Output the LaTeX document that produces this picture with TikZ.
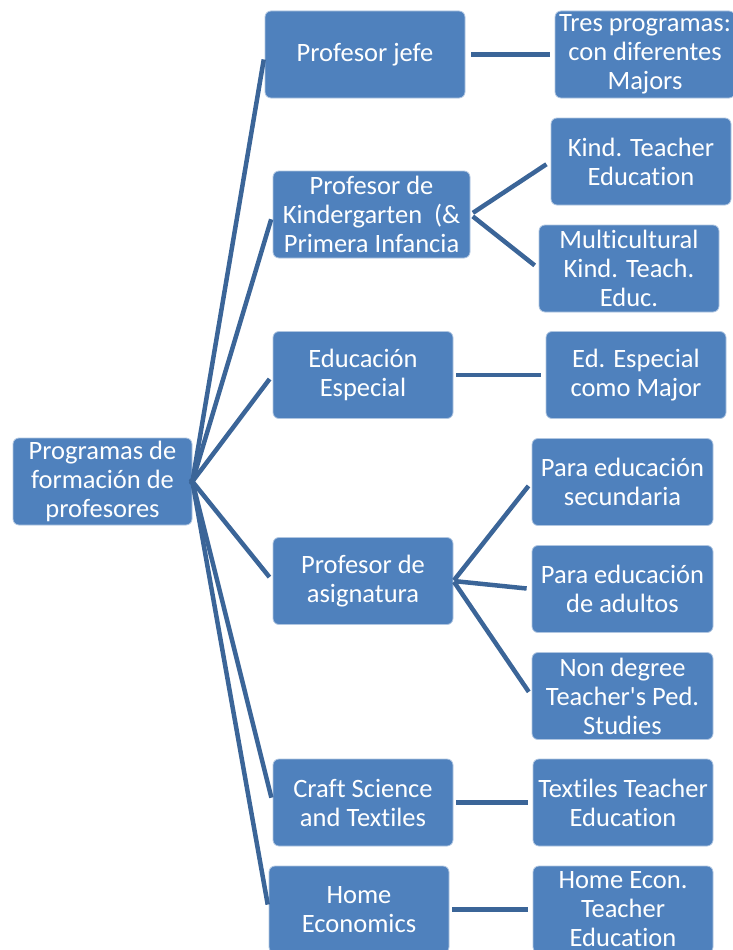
\documentclass[tikz,border=0pt]{standalone}
\usepackage{fontspec}
\setmainfont{Carlito}[Ligatures={NoCommon}]
\definecolor{boxblue}{HTML}{4F81BD}
\definecolor{linkblue}{HTML}{3B6598}
\begin{document}
\begin{tikzpicture}[
    x=1pt, y=-1pt,
    % Style for the blue SmartArt boxes
    box/.style={rectangle, rounded corners=6pt, fill=boxblue, draw=white!55!boxblue, line width=0.8pt,
        text=white, align=center, inner sep=0pt, minimum height=87pt,
        font=\fontsize{26.5}{29}\selectfont},
    % Style for the thick connectors
    link/.style={linkblue, line width=4.5pt, shorten >=5pt}
]
    \clip (0,0) rectangle (733,950);
    \useasboundingbox (0,0) rectangle (733,950);

    % --- 1. Root ---
    \node[box, minimum width=179pt] (root) at (102.5, 481.5) {Programas de\\formación de\\profesores};

    % --- 2. First level ---
    \node[box, minimum width=200pt] (jefe) at (365, 54.5) {Profesor jefe};
    \node[box, minimum width=197pt] (kinder) at (371.5, 214.5) {Profesor de\\Kindergarten\ \ (\&\\Primera Infancia};
    \node[box, minimum width=180pt] (especial) at (363, 375) {Educación\\Especial};
    \node[box, minimum width=180pt] (asignatura) at (363, 581) {Profesor de\\asignatura};
    \node[box, minimum width=180pt] (craft) at (363, 802.5) {Craft Science\\and Textiles};
    \node[box, minimum width=180pt] (home) at (359, 909.5) {Home\\Economics};

    % --- 3. Second level ---
    \node[box, minimum width=180pt] (tres) at (645, 54.5) {Tres programas:\\con diferentes\\Majors};
    \node[box, minimum width=180pt] (kindte) at (641, 161.5) {Kind. Teacher\\Education};
    \node[box, minimum width=180pt] (multi) at (629, 268.5) {Multicultural\\Kind. Teach.\\Educ.};
    \node[box, minimum width=180pt] (edmajor) at (636, 375) {Ed. Especial\\como Major};
    \node[box, minimum width=181pt] (secundaria) at (622.5, 482) {Para educación\\secundaria};
    \node[box, minimum width=181pt] (adultos) at (622.5, 589) {Para educación\\de adultos};
    \node[box, minimum width=181pt] (nondegree) at (622.5, 696) {Non degree\\Teacher\textquotesingle s Ped.\\Studies};
    \node[box, minimum width=180pt] (textiles) at (623, 802.5) {Textiles Teacher\\Education};
    \node[box, minimum width=180pt] (homeecon) at (623, 909.5) {Home Econ.\\Teacher\\Education};

    % --- 4. Connectors ---
    \foreach \child in {jefe, kinder, especial, asignatura, craft, home}
        \draw[link, shorten <=-3pt] (root.east) -- (\child.west);

    \draw[link, shorten <=6pt] (jefe.east) -- (tres.west);
    \draw[link, shorten <=3pt] (kinder.east) -- (kindte.west);
    \draw[link, shorten <=3pt] (kinder.east) -- (multi.west);
    \draw[link, shorten <=3pt] (especial.east) -- (edmajor.west);
    \draw[link, shorten <=1pt] (asignatura.east) -- (secundaria.west);
    \draw[link, shorten <=1pt] (asignatura.east) -- (adultos.west);
    \draw[link, shorten <=1pt] (asignatura.east) -- (nondegree.west);
    \draw[link, shorten <=3pt] (craft.east) -- (textiles.west);
    \draw[link, shorten <=3pt] (home.east) -- (homeecon.west);

\end{tikzpicture}
\end{document}
